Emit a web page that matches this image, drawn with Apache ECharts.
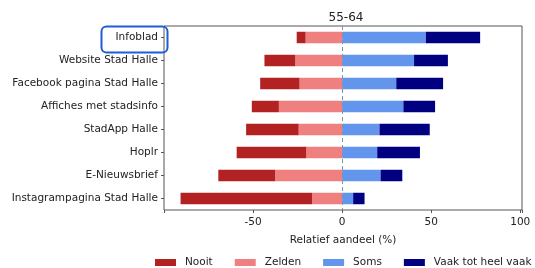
<!DOCTYPE html>
<html>
<head>
<meta charset="utf-8">
<script src="https://cdn.jsdelivr.net/npm/echarts@6/dist/echarts.min.js"></script>
<style>
  html, body { margin: 0; padding: 0; background: #fff; }
  #chart { width: 535px; height: 268px; }
</style>
</head>
<body>
<div id="chart"></div>
<script>
  // data (percentages)
  var categories = ['Infoblad', 'Website Stad Halle', 'Facebook pagina Stad Halle', 'Affiches met stadsinfo',
    'StadApp Halle', 'Hoplr', 'E-Nieuwsbrief', 'Instagrampagina Stad Halle'];
  var nooit = [5, 17.3, 22.1, 15.2, 29.5, 39.1, 31.9, 73.8];
  var zelden = [20.5, 26.3, 23.9, 35.5, 24.4, 20.1, 37.6, 16.9];
  var soms = [47, 40.4, 30.4, 34.4, 21, 19.7, 21.6, 6.2];
  var vaak = [30.5, 19, 26.3, 17.8, 28.2, 24, 12.2, 6.4];
  var xTicks = [-50, 0, 50, 100];

  var font = 'DejaVu Sans';
  var chart = echarts.init(document.getElementById('chart'));

  function neg(arr) {
    return arr.map(function (v) { return -v; });
  }

  var option = {
    animation: false,
    textStyle: { fontFamily: font },
    title: {
      text: '55-64',
      left: 341,
      top: 7,
      textAlign: 'center',
      textStyle: { fontSize: 12, fontWeight: 'normal', color: '#222', fontFamily: font }
    },
    legend: {
      top: 257,
      left: 155,
      width: 390,
      padding: 0,
      itemWidth: 21,
      itemHeight: 7,
      itemGap: 22,
      icon: 'rect',
      textStyle: { fontSize: 10.5, color: '#222', fontFamily: font, padding: [0, 0, 0, 4] },
      data: ['Nooit', 'Zelden', 'Soms', 'Vaak tot heel vaak']
    },
    grid: {
      left: 164,
      right: 13,
      top: 26,
      bottom: 58,
      show: true,
      borderColor: '#555',
      borderWidth: 1
    },
    xAxis: {
      type: 'value',
      min: -100,
      max: 101,
      interval: 50,
      name: 'Relatief aandeel (%)',
      nameLocation: 'middle',
      nameGap: 25,
      nameTextStyle: { fontSize: 10.5, color: '#222', fontFamily: font },
      axisLine: { show: false },
      axisTick: { show: true, length: 3, inside: false, lineStyle: { color: '#555' } },
      splitLine: { show: false },
      axisLabel: {
        fontSize: 10.5, color: '#222', margin: 7,
        formatter: function (v) { return xTicks.indexOf(v) >= 0 ? String(v) : ''; }
      }
    },
    yAxis: {
      type: 'category',
      inverse: true,
      data: categories,
      axisLine: { show: false, onZero: false },
      axisTick: { show: true, length: 3, alignWithLabel: true, lineStyle: { color: '#555' } },
      axisLabel: { fontSize: 10.5, color: '#222', margin: 6 }
    },
    series: [
      {
        name: 'Zelden', type: 'bar', stack: 'a', barWidth: '50%',
        itemStyle: { color: '#f08080' },
        data: neg(zelden),
        markLine: {
          silent: true,
          symbol: 'none',
          label: { show: false },
          lineStyle: { type: [4, 3], color: '#7b93ad', width: 1 },
          data: [{ xAxis: 0 }]
        }
      },
      {
        name: 'Nooit', type: 'bar', stack: 'a', barWidth: '50%',
        itemStyle: { color: '#b22222' },
        data: neg(nooit)
      },
      {
        name: 'Soms', type: 'bar', stack: 'a', barWidth: '50%',
        itemStyle: { color: '#6495ed' },
        data: soms
      },
      {
        name: 'Vaak tot heel vaak', type: 'bar', stack: 'a', barWidth: '50%',
        itemStyle: { color: '#000080' },
        data: vaak
      }
    ],
    // highlight box round the first label
    graphic: [{
      type: 'rect',
      left: 99,
      top: 24,
      shape: { width: 66, height: 26, r: 5 },
      style: { fill: 'none', stroke: '#1f5fd6', lineWidth: 2 },
      z: 100
    }]
  };
  chart.setOption(option);
</script>
</body>
</html>
